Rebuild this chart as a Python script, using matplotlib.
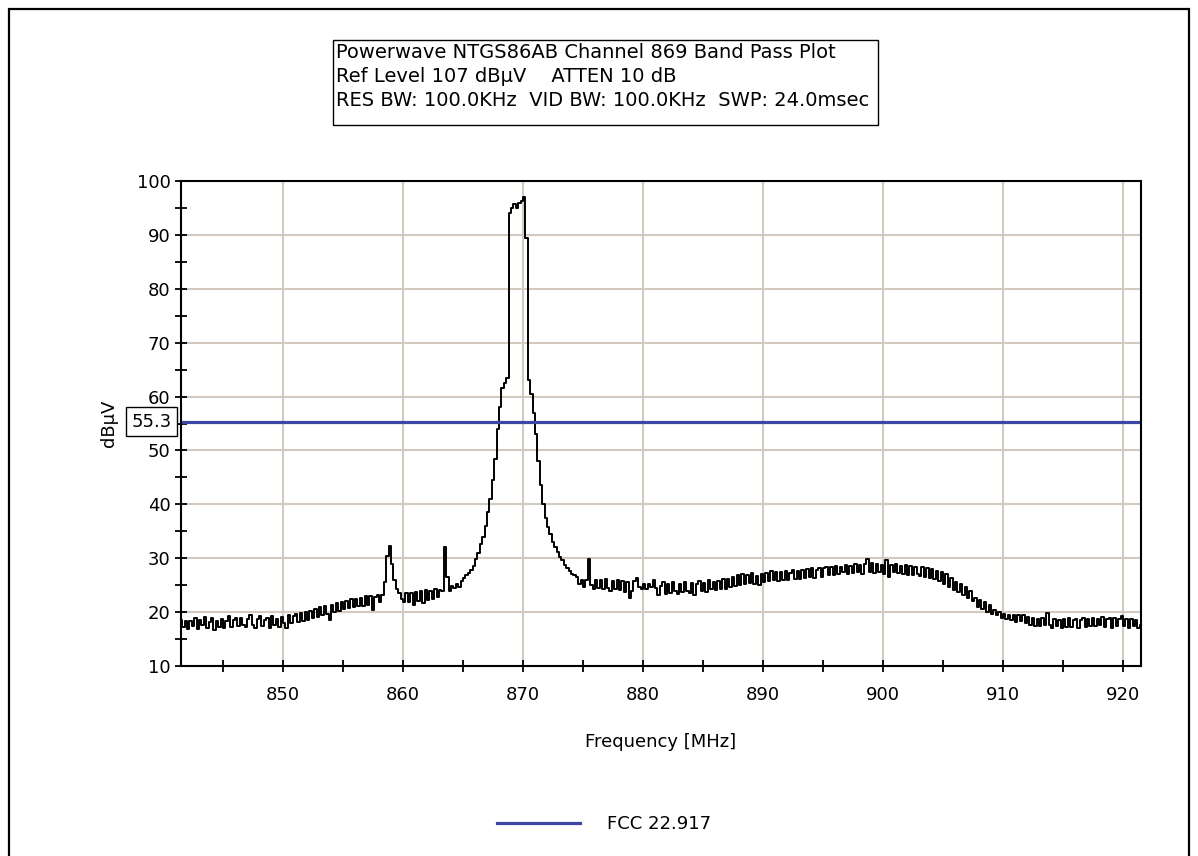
import numpy as np
import matplotlib.pyplot as plt
from matplotlib.patches import Rectangle


# sweep: 401 points, 841.5 .. 921.5 MHz
f_start = 841.5
f_stop = 921.5

level_dbuv = [
    # 841.5 - 846.3
    18.6, 17.2, 18.4, 16.9, 18.3, 17.5, 19.0, 16.8, 18.5, 17.6, 19.1, 17.0, 18.2,
    18.9, 16.7, 18.4, 17.3, 18.8, 17.1, 18.3, 19.3, 17.2, 18.6, 19.0, 17.5,
    # 846.5 - 851.3
    19.0, 17.7, 17.2, 18.8, 19.4, 17.6, 17.1, 18.7, 19.2, 17.4, 18.5, 19.0, 17.1,
    19.3, 17.7, 18.8, 17.3, 19.1, 18.0, 17.0, 19.4, 18.0, 19.2, 19.6, 18.1,
    # 851.5 - 856.3
    19.8, 18.3, 20.0, 18.6, 20.2, 18.9, 20.6, 19.1, 20.9, 19.4, 21.2, 19.7, 18.6,
    21.4, 20.0, 21.6, 20.2, 21.9, 20.5, 22.1, 20.7, 22.4, 21.0, 22.5, 21.2,
    # 856.5 - 861.3
    22.6, 21.2, 22.9, 21.4, 23.0, 20.4, 22.8, 23.1, 21.8, 23.2, 25.5, 30.5, 32.2,
    29.0, 26.0, 24.2, 23.6, 22.4, 21.9, 23.6, 21.8, 23.5, 21.3, 23.8, 22.0,
    # 861.5 - 866.3
    23.9, 21.6, 24.1, 22.3, 24.0, 22.4, 24.2, 22.8, 24.1, 24.0, 32.0, 26.5, 24.0,
    24.8, 24.4, 25.3, 24.6, 25.8, 26.3, 26.8, 27.2, 27.8, 28.6, 29.8, 31.0,
    # 866.5 - 871.3
    32.6, 34.0, 36.0, 38.5, 41.0, 44.5, 48.5, 54.0, 58.0, 61.5, 62.5, 63.5, 94.0,
    95.0, 95.8, 95.0, 96.0, 96.2, 97.0, 89.5, 63.0, 60.5, 57.0, 53.0, 48.0,
    # 871.5 - 876.3
    43.5, 40.0, 37.5, 35.8, 34.5, 33.0, 32.0, 31.2, 30.3, 29.6, 28.8, 28.2, 27.7,
    27.0, 26.8, 26.6, 25.2, 26.0, 24.6, 25.9, 29.8, 25.0, 24.3, 26.0, 24.4,
    # 876.5 - 881.3
    25.9, 24.2, 26.1, 24.5, 24.0, 25.8, 24.3, 26.0, 24.1, 25.7, 23.8, 25.5, 22.6,
    24.0, 25.7, 26.3, 24.6, 24.2, 25.2, 24.3, 25.3, 24.6, 25.9, 24.4, 23.2,
    # 881.5 - 886.3
    24.9, 25.5, 23.3, 25.2, 23.5, 25.6, 23.9, 23.4, 25.3, 23.7, 25.5, 24.0, 23.6,
    25.4, 23.2, 25.3, 25.7, 24.0, 25.4, 23.8, 25.9, 24.2, 25.6, 24.1, 25.8,
    # 886.5 - 891.3
    24.3, 26.1, 24.3, 26.2, 24.7, 26.6, 24.9, 26.8, 25.1, 27.0, 25.3, 26.9, 25.4,
    27.2, 25.2, 26.7, 25.1, 27.0, 25.5, 27.3, 25.7, 27.6, 25.9, 27.4, 25.8,
    # 891.5 - 896.3
    27.5, 25.9, 27.7, 26.0, 27.3, 27.8, 26.1, 27.6, 26.2, 27.9, 26.3, 28.0, 26.5,
    28.1, 26.4, 27.8, 28.2, 26.5, 28.1, 28.4, 26.8, 28.3, 26.9, 28.5, 27.0,
    # 896.5 - 901.3
    28.4, 27.5, 28.7, 27.0, 28.6, 27.2, 28.9, 27.4, 28.8, 27.1, 29.0, 29.8, 27.5,
    29.1, 27.3, 28.9, 27.5, 28.8, 27.1, 29.6, 26.6, 28.8, 27.4, 28.9, 27.2,
    # 901.5 - 906.3
    28.6, 27.1, 28.7, 26.9, 28.5, 26.8, 28.4, 27.0, 26.7, 28.3, 26.5, 28.1, 26.4,
    28.0, 26.1, 27.7, 25.8, 27.4, 25.3, 27.0, 24.7, 26.3, 24.1, 25.6, 23.7,
    # 906.5 - 911.3
    25.3, 23.1, 24.7, 22.7, 23.9, 22.1, 22.6, 20.9, 22.2, 20.6, 21.8, 20.1, 21.4,
    19.7, 20.4, 19.5, 20.0, 18.9, 19.6, 18.7, 19.5, 18.6, 19.4, 18.1, 19.5,
    # 911.5 - 916.3
    18.3, 19.4, 17.9, 19.1, 17.7, 19.0, 17.5, 18.8, 17.4, 18.9, 17.6, 19.9, 17.7,
    17.1, 18.8, 17.4, 18.6, 17.0, 18.7, 17.3, 18.9, 17.2, 18.5, 18.8, 17.1,
    # 916.5 - 921.5
    18.6, 18.9, 17.3, 18.7, 17.5, 19.0, 17.4, 18.8, 17.6, 19.1, 17.3, 18.7, 19.0,
    17.1, 18.9, 17.5, 18.8, 19.2, 17.4, 18.7, 17.1, 18.8, 17.4, 18.6, 17.0,
    17.7,
]

limit_level = 55.3
limit_name = "FCC 22.917"

title_lines = [
    "Powerwave NTGS86AB Channel 869 Band Pass Plot",
    "Ref Level 107 dB\u03bcV    ATTEN 10 dB",
    "RES BW: 100.0KHz  VID BW: 100.0KHz  SWP: 24.0msec",
]

x_major = [850, 860, 870, 880, 890, 900, 910, 920]
x_minor = [845, 855, 865, 875, 885, 895, 905, 915]
y_major = [10, 20, 30, 40, 50, 60, 70, 80, 90, 100]
y_minor = [15, 25, 35, 45, 55, 65, 75, 85, 95]

freq = np.linspace(f_start, f_stop, len(level_dbuv))

W, H = 1198, 856
fig = plt.figure(figsize=(W / 100, H / 100), dpi=100)
fig.patch.set_facecolor("white")

# outer frame of the report page
fig.patches.append(Rectangle((8.5 / W, -0.05), (1189 - 8.5) / W, 1.05 - 8.5 / H,
                             transform=fig.transFigure, fill=False,
                             edgecolor="black", lw=1.6))

# header box
fig.patches.append(Rectangle((333 / W, 1 - 125 / H), (878 - 333) / W, 85 / H,
                             transform=fig.transFigure, fill=False,
                             edgecolor="black", lw=1.0))
for i, line in enumerate(title_lines):
    fig.text(336 / W, 1 - (52 + 24 * i) / H, line, fontsize=14,
             ha="left", va="center")

ax = fig.add_axes([181 / W, 190 / H, 960 / W, 485 / H])

ax.plot(freq, level_dbuv, color="black", lw=1.4, drawstyle="steps-mid")
lim = ax.axhline(limit_level, color="#3c46a4", lw=2.3, label=limit_name)

ax.set_xlim(f_start, f_stop)
ax.set_ylim(10, 100)
ax.set_xticks(x_major)
ax.set_xticks(x_minor, minor=True)
ax.set_yticks(y_major)
ax.set_yticks(y_minor, minor=True)
ax.grid(True, which="major", color="#d3c9bf", lw=1.5)
ax.set_axisbelow(True)

ax.tick_params(which="both", direction="inout", length=9, width=1.3, colors="black")
ax.tick_params(axis="x", which="major", labelsize=13, pad=10)
ax.tick_params(axis="y", which="major", labelsize=13, pad=3)
for s in ax.spines.values():
    s.set_linewidth(1.5)

ax.set_xlabel("Frequency [MHz]", fontsize=13)
ax.xaxis.set_label_coords(0.5, -(733 - 666) / 485)
ax.set_ylabel("dB\u03bcV", fontsize=13)
ax.yaxis.set_label_coords(-(181 - 118) / 960, 0.5)

# level marker box
ax.annotate(f"{limit_level}", xy=(0, limit_level), xycoords=("axes fraction", "data"),
            xytext=(-9, 0), textcoords="offset pixels", ha="right", va="center",
            fontsize=13,
            bbox=dict(boxstyle="square,pad=0.3", fc="white", ec="black", lw=1.0))

fig.legend(handles=[lim], loc="center left", bbox_to_anchor=(497 / W, 1 - 824 / H),
           frameon=False, fontsize=13, handlelength=4.6, handletextpad=1.5,
           borderpad=0, borderaxespad=0)

fig.savefig("out.png", dpi=100)
